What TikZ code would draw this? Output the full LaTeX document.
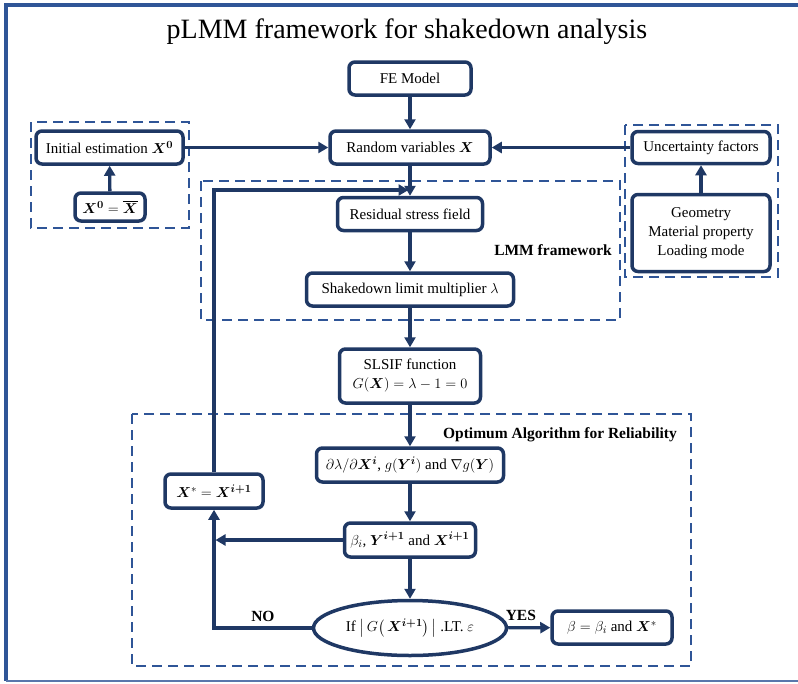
\documentclass[tikz,border=0pt]{standalone}
\usepackage{amsmath}
\usepackage{bm}
\usepackage{fontspec}
\setmainfont{Liberation Serif}
\usetikzlibrary{arrows.meta,shapes.geometric}

\definecolor{boxblue}{RGB}{31,56,100}
\definecolor{dashblue}{RGB}{47,85,151}

\begin{document}
\begin{tikzpicture}[x=1pt,y=-1pt,
  box/.style={draw=boxblue, line width=3.5pt, rounded corners=6pt, fill=white,
    inner sep=0pt, align=center, font=\fontsize{15}{19}\selectfont},
  arr/.style={draw=boxblue, line width=3.3pt, -{Triangle[length=10pt,width=11pt]}},
  grp/.style={draw=dashblue, line width=2.6pt, dash pattern=on 10pt off 6pt},
  frameline/.style={draw=dashblue, line width=3.2pt},
  tag/.style={font=\fontsize{15.5}{17}\selectfont\bfseries, inner sep=0pt}]
\useasboundingbox (0,0) rectangle (798,683);

% outer frame (open on the right)
\draw[frameline] (798,5) -- (6,5) -- (6,681);
\draw[draw=dashblue!80, line width=2pt] (6,681) -- (798,681);

% title
\node[font=\fontsize{28}{32}\selectfont] (title) at (407,32) {pLMM framework for shakedown analysis};

% grouping frames
\draw[grp] (31,122) rectangle (189,228);
\draw[grp] (625,125) rectangle (778,277);
\draw[grp] (201,181) rectangle (620,320);
\draw[grp] (132,414) rectangle (691,666);

\node[tag] (lmmtag) at (553,250) {LMM framework};
\node[tag] (opttag) at (560,435) {Optimum Algorithm for Reliability};

% boxes
\node[box, minimum width=122, minimum height=33] (fe) at (410,78.5) {FE Model};
\node[box, minimum width=160, minimum height=33] (rv) at (410,147.5) {Random variables $\bm{X}$};
\node[box, minimum width=147, minimum height=33] (init) at (109.5,147.5) {Initial estimation $\bm{X}^{\bm{0}}$};
\node[box, minimum width=70, minimum height=28] (x0) at (110,207) {$\bm{X}^{\bm{0}} = \overline{\bm{X}}$};
\node[box, minimum width=138, minimum height=32] (unc) at (701,147.5) {Uncertainty factors};
\node[box, minimum width=138, minimum height=77] (geo) at (701,233) {Geometry\\Material property\\Loading mode};
\node[box, minimum width=145, minimum height=33] (res) at (410,214) {Residual stress field};
\node[box, minimum width=207, minimum height=33] (shk) at (410,289.5) {Shakedown limit multiplier $\lambda$};
\node[box, minimum width=141, minimum height=54] (slsif) at (410,376) {SLSIF function\\$G(\bm{X}) = \lambda - 1 = 0$};
\node[box, minimum width=187, minimum height=34] (dl) at (410,465)
  {$\partial\lambda/\partial\bm{X}^{\bm{i}}$, $g(\bm{Y}^{\bm{i}})$ and $\nabla g(\bm{Y})$};
\node[box, minimum width=131, minimum height=34] (beta) at (410,540)
  {$\beta_i$, $\bm{Y}^{\bm{i+1}}$ and $\bm{X}^{\bm{i+1}}$};
\node[box, minimum width=98, minimum height=34] (xstar) at (214,491)
  {$\bm{X}^{*} = \bm{X}^{\bm{i+1}}$};
\node[draw=boxblue, line width=3.5pt, ellipse, fill=white, minimum width=193, minimum height=55,
  inner sep=0pt, font=\fontsize{15}{19}\selectfont] (ell) at (410,628)
  {If $\bigl|\,G\bigl(\,\bm{X}^{\bm{i+1}}\bigr)\,\bigr|$ .LT. $\varepsilon$};
\node[box, minimum width=120, minimum height=33] (fin) at (612,627.5)
  {$\beta = \beta_i$ and $\bm{X}^{*}$};

% connectors
\draw[arr] (fe) -- (rv);
\draw[arr] (init) -- (rv);
\draw[arr] (unc) -- (rv);
\draw[arr] (x0) -- (init);
\draw[arr] (geo) -- (unc);
\draw[arr] (rv) -- (res);
\draw[arr] (res) -- (shk);
\draw[arr] (shk) -- (slsif);
\draw[arr] (slsif) -- (dl);
\draw[arr] (dl) -- (beta);
\draw[arr] (beta) -- (ell);
\draw[arr] (ell) -- (fin) node[tag, pos=0.3, above=5pt] (yes) {YES};
\draw[arr] (ell.west) -- (xstar.south |- ell.west) node[tag, pos=0.5, above=5pt] (no) {NO} -- (xstar.south);
\draw[arr, shorten >=1.5pt] (beta.west) -- (xstar.south |- beta.west);
\coordinate (looptop) at (214,190);
\draw[arr, shorten >=1.5pt] (xstar.north) -- (looptop) -- (rv.south |- looptop);
\end{tikzpicture}
\end{document}
